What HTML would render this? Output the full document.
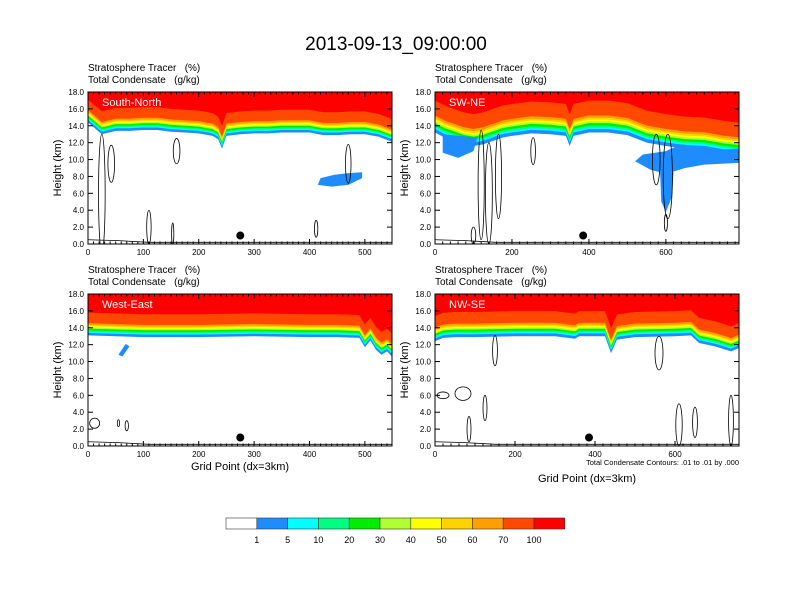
<!DOCTYPE html>
<html><head><meta charset="utf-8"><style>
html,body{margin:0;padding:0;background:#fff;}
svg{display:block;font-family:"Liberation Sans",Arial,sans-serif;}
text{white-space:pre;}
</style></head><body>
<svg id="chart" width="792" height="612" viewBox="0 0 792 612">
<text x="396" y="50" text-anchor="middle" font-size="19">2013-09-13_09:00:00</text>
<g id="panels"></g>
<g id="cbar"></g>
</svg>
<script>
const NS="http://www.w3.org/2000/svg";
const colors=["#ffffff","#1e8cff","#00ffff","#00ff80","#00ee00","#b0ff30","#ffff00","#ffd200","#ffa000","#ff4800","#ff0000"];
const cbarLabels=["1","5","10","20","30","40","50","60","70","100"];
const bandOffsets=[0,0.3,0.45,0.6,0.8,0.95,1.1,1.25,1.45,2.7];
const yTicks=[0,2,4,6,8,10,12,14,16,18];
const tlX=[0,25,50,75,100,125,150,175,200,225,235,242,250,275,300,325,350,375,400,425,450,475,500,525,549];
const tlBase=[14.4,13.0,13.4,13.4,13.5,13.5,13.3,13.2,13.1,12.8,12.4,11.3,12.8,13.0,13.1,13.1,13.2,13.2,13.2,12.9,12.9,13.0,13.0,12.7,12.1];
const trX=[0,25,50,75,100,125,150,175,200,250,300,340,350,360,400,450,500,550,600,650,700,750,790];
const trBase=[13.2,12.6,12.2,11.8,11.6,11.8,12.2,12.6,12.8,13.1,13.0,12.8,11.6,12.8,13.2,13.2,12.9,12.0,11.6,11.3,11.2,10.8,10.6];
const blX=[0,50,100,200,300,400,450,490,500,510,520,530,540,549];
const blBase=[13.1,13.0,12.9,12.9,13.0,12.9,12.9,12.8,11.7,12.5,11.4,10.8,11.2,10.6];
const brX=[0,20,50,100,200,300,350,360,400,425,440,455,500,600,640,660,700,740,760];
const brBase=[12.4,12.8,12.9,12.9,13.0,13.0,12.7,13.0,13.0,13.0,11.0,12.6,12.9,13.0,13.1,12.2,11.8,11.2,11.6];
const tlBlobs=[[[415,7.0],[440,6.8],[470,7.0],[495,7.8],[495,8.5],[470,8.4],[445,8.2],[420,7.8]]];
const trBlobs=[[[20,10.8],[60,10.2],[100,11.0],[110,12.6],[20,13.0]],[[520,9.8],[560,8.8],[600,8.3],[650,9.0],[700,9.4],[790,9.6],[790,11.3],[740,11.2],[700,11.5],[640,11.8],[600,11.0],[540,10.6]],[[585,8.5],[620,8.5],[615,5.5],[600,3.8],[588,5.0]]];
const blBlobs=[[[55,10.8],[62,10.6],[75,11.8],[68,12.1]]];
const brBlobs=[];
const tlCont=[[25,6,6,7],[42,9.5,6,2.2],[160,11,6,1.5],[470,9.5,5,2.3],[110,2,4,2],[153,1.2,2,1.3],[412,1.8,3,1]];
const trCont=[[120,7,8,6.5],[140,6,9,6],[165,8,8,5],[575,10,10,3],[605,8,12,5],[255,11,6,1.6],[100,1,6,1],[600,2.5,4,1]];
const blCont=[[12,2.7,9,0.6],[55,2.7,2,0.4],[70,2.4,3,0.6]];
const brCont=[[20,6.0,15,0.4],[70,6.2,20,0.8],[125,4.5,5,1.5],[150,11.3,6,1.8],[560,11,10,2],[610,2.5,8,2.5],[740,3,6,3],[85,2,5,1.5],[650,2.8,6,1.8]];
const panels=[
 {name:"south-north",label:"South-North",x:88,y:92,xmax:549,xt:[0,100,200,300,400,500],xs:tlX,base:tlBase,blobs:tlBlobs,cont:tlCont,dot:275,scale:1.0,xlab:false},
 {name:"sw-ne",label:"SW-NE",x:435,y:92,xmax:790,xt:[0,200,400,600],xs:trX,base:trBase,blobs:trBlobs,cont:trCont,dot:385,scale:1.4,xlab:false},
 {name:"west-east",label:"West-East",x:88,y:294,xmax:549,xt:[0,100,200,300,400,500],xs:blX,base:blBase,blobs:blBlobs,cont:blCont,dot:275,scale:1.0,xlab:true},
 {name:"nw-se",label:"NW-SE",x:435,y:294,xmax:760,xt:[0,200,400,600],xs:brX,base:brBase,blobs:brBlobs,cont:brCont,dot:385,scale:1.1,xlab:true,note:true}
];
const W=304,H=152;
function el(tag,attrs,parent){const e=document.createElementNS(NS,tag);for(const k in attrs)e.setAttribute(k,attrs[k]);parent.appendChild(e);return e;}
const root=document.getElementById("panels");
panels.forEach(p=>{
 const g=el("g",{},root);
 
 
 const sx=v=>p.x+v/p.xmax*W, sy=v=>p.y+H-v/18*H;
 const cid="clip-"+p.name;
 const cp=el("clipPath",{id:cid},g);el("rect",{x:p.x,y:p.y,width:W,height:H},cp);
 const plot=el("g",{"clip-path":"url(#"+cid+")"},g);
 
 
 el("rect",{x:p.x,y:p.y,width:W,height:H,fill:"#fff"},plot);
 for(let b=0;b<bandOffsets.length;b++){
  let pts=p.xs.map((xv,i)=>sx(xv)+","+sy(p.base[i]+bandOffsets[b]*p.scale));
  pts.push(sx(p.xmax)+","+(p.y-5));pts.push(sx(0)+","+(p.y-5));
  const poly=el("polygon",{points:pts.join(" "),fill:colors[b+1]},plot);
  
  
 }
 p.blobs.forEach(bl=>{
  const poly=el("polygon",{points:bl.map(q=>sx(q[0])+","+sy(q[1])).join(" "),fill:colors[1]},plot);
  
  
 });
 p.cont.forEach(c=>{
  const e=el("ellipse",{cx:sx(c[0]),cy:sy(c[1]),rx:c[2]/p.xmax*W,ry:c[3]/18*H,fill:"none",stroke:"#000","stroke-width":0.8},plot);
  
  
 });
 const terr=el("polyline",{points:[sx(0)+","+sy(0.5),sx(p.xmax*0.1)+","+sy(0.4),sx(p.xmax*0.2)+","+sy(0.2),sx(p.xmax)+","+sy(0.2)].join(" "),fill:"none",stroke:"#000","stroke-width":0.8},plot);
 
 
 const dot=el("circle",{cx:sx(p.dot),cy:sy(1.0),r:4,fill:"#000"},plot);
 
 
 const lab=el("text",{x:p.x+14,y:p.y+14,fill:"#fff","font-size":11},g);lab.textContent=p.label;
 
 
 el("rect",{x:p.x,y:p.y,width:W,height:H,fill:"none",stroke:"#000","stroke-width":1},g);
 yTicks.forEach(t=>{
  const y=sy(t);
  el("line",{x1:p.x,x2:p.x+5,y1:y,y2:y,stroke:"#000"},g);
  el("line",{x1:p.x+W-5,x2:p.x+W,y1:y,y2:y,stroke:"#000"},g);
  const tx=el("text",{x:p.x-4,y:y+3,"text-anchor":"end","font-size":8},g);tx.textContent=t.toFixed(1);
  
  
 });
 for(let v=0;v<=p.xmax;v+=(p.xmax>600?20:10)){
  const x=sx(v),maj=p.xt.includes(v);
  el("line",{x1:x,x2:x,y1:p.y+H,y2:p.y+H-(maj?5:2.5),stroke:"#000"},g);
  el("line",{x1:x,x2:x,y1:p.y,y2:p.y+(maj?5:2.5),stroke:"#000"},g);
 }
 p.xt.forEach(v=>{
  const tx=el("text",{x:sx(v),y:p.y+H+11,"text-anchor":"middle","font-size":8},g);tx.textContent=v;
  
  
 });
 const yl=el("text",{transform:`translate(${p.x-27},${p.y+H/2}) rotate(-90)`,"text-anchor":"middle","font-size":11},g);yl.textContent="Height (km)";
 
 
 const h1=el("text",{x:p.x,y:p.y-21,"font-size":10},g);h1.textContent="Stratosphere Tracer   (%)";
 
 
 const h2=el("text",{x:p.x,y:p.y-9,"font-size":10},g);h2.textContent="Total Condensate   (g/kg)";
 
 
 if(p.note){
  const n=el("text",{x:p.x+W,y:p.y+H+19,"text-anchor":"end","font-size":7.5},g);n.textContent="Total Condensate Contours: .01 to .01 by .000";
  
  
 }
 if(p.xlab){
  const xl=el("text",{x:p.x+W/2,y:p.y+H+(p.note?36:24),"text-anchor":"middle","font-size":11},g);xl.textContent="Grid Point (dx=3km)";
  
  
 }
});
const cb=document.getElementById("cbar");
const cx0=226,cw=30.8,cy=518,ch=11;
colors.forEach((c,i)=>{
 const r=el("rect",{x:cx0+i*cw,y:cy,width:cw,height:ch,fill:c,stroke:"#333","stroke-width":0.6},cb);
 
 
});
cbarLabels.forEach((l,i)=>{
 const t=el("text",{x:cx0+(i+1)*cw,y:cy+25,"text-anchor":"middle","font-size":9},cb);t.textContent=l;
 
 
});
</script>
</body></html>
